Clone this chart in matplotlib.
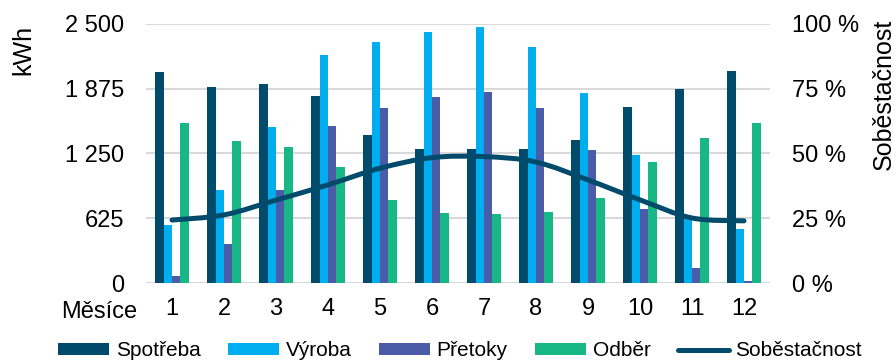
#!/usr/bin/env python3
import numpy as np
import matplotlib
matplotlib.use('Agg')
import matplotlib.pyplot as plt
from matplotlib.path import Path
from matplotlib.patches import PathPatch, Patch
from matplotlib.lines import Line2D

plt.rcParams['font.family'] = ['Liberation Sans', 'DejaVu Sans']

months = ['1', '2', '3', '4', '5', '6', '7', '8', '9', '10', '11', '12']
spotreba = [2040, 1890, 1919, 1806, 1430, 1292, 1292, 1292, 1379, 1703, 1870, 2047]
vyroba = [559, 897, 1507, 2201, 2326, 2420, 2468, 2281, 1835, 1237, 620, 517]
pretoky = [64, 379, 893, 1514, 1690, 1796, 1841, 1687, 1282, 710, 145, 22]
odber = [1543, 1372, 1311, 1115, 797, 671, 665, 690, 825, 1170, 1398, 1548]
sobestacnost = [24.3, 26.3, 32.0, 37.9, 44.3, 48.4, 48.8, 46.7, 39.8, 32.1, 25.1, 24.0]

series_names = ['Spotřeba', 'Výroba', 'Přetoky', 'Odběr']
colors = ['#004B6B', '#00AEEF', '#4A5BA8', '#17B786']
line_color = '#004B6B'
FS_TICK = 17
FS_TITLE = 18
FS_LEG = 15


def smooth_path(xs, ys):
    # Catmull-Rom style bezier, like a spreadsheet "smoothed line"
    pts = np.column_stack([xs, ys]).astype(float)
    n = len(pts)
    verts = [pts[0]]
    codes = [Path.MOVETO]
    for i in range(n - 1):
        p0 = pts[i - 1] if i > 0 else pts[i]
        p1 = pts[i]
        p2 = pts[i + 1]
        p3 = pts[i + 2] if i + 2 < n else pts[i + 1]
        c1 = p1 + (p2 - p0) / 6.0
        c2 = p2 - (p3 - p1) / 6.0
        verts += [c1, c2, p2]
        codes += [Path.CURVE4] * 3
    return Path(verts, codes)


def run():
    fig = plt.figure(figsize=(8.96, 3.63), dpi=100)
    ax = fig.add_axes([146 / 896, 1 - 283 / 363, 624 / 896, 259 / 363])
    ax2 = ax.twinx()

    x = np.arange(len(months))
    w = 0.16
    for k, (vals, c) in enumerate(zip([spotreba, vyroba, pretoky, odber], colors)):
        ax.bar(x + (k - 1.5) * w, vals, width=w, color=c, linewidth=0, zorder=2)

    ax.set_xlim(-0.5, len(months) - 0.5)
    ax.set_ylim(0, 2500)
    ax.set_yticks([0, 625, 1250, 1875, 2500])
    ax.set_yticklabels(['0', '625', '1 250', '1 875', '2 500'])
    ax.set_xticks(x)
    ax.set_xticklabels(months)
    ax.grid(axis='y', color='#D9D9D9', linewidth=1.5)
    ax.set_axisbelow(True)
    ax.tick_params(axis='y', length=0, pad=16, labelsize=FS_TICK)
    ax.tick_params(axis='x', length=0, pad=11, labelsize=FS_TICK)

    ax2.set_ylim(0, 100)
    ax2.set_yticks([0, 25, 50, 75, 100])
    ax2.set_yticklabels(['0 %', '25 %', '50 %', '75 %', '100 %'])
    ax2.tick_params(axis='y', length=0, pad=16, labelsize=FS_TICK)
    patch = PathPatch(smooth_path(x, sobestacnost), facecolor='none',
                      edgecolor=line_color, linewidth=3.6, capstyle='round',
                      joinstyle='round', zorder=3)
    ax2.add_patch(patch)

    for a in (ax, ax2):
        for s in a.spines.values():
            s.set_visible(False)

    fig.text(23 / 896, 1 - 50 / 363, 'kWh', rotation=90, ha='center', va='center', fontsize=FS_TITLE)
    fig.text(884 / 896, 1 - 94 / 363, 'Soběstačnost', rotation=90, ha='center', va='center', fontsize=FS_TITLE)
    fig.text(137 / 896, 1 - 312 / 363, 'Měsíce', ha='right', va='center', fontsize=FS_TICK)

    handles = [Patch(facecolor=c, edgecolor='none') for c in colors]
    handles.append(Line2D([], [], color=line_color, linewidth=3.6, solid_capstyle='round'))
    labels = series_names + ['Soběstačnost']
    fig.legend(handles, labels, loc='center', bbox_to_anchor=(460 / 896, 1 - 351 / 363),
               ncol=5, frameon=False, fontsize=FS_LEG, handlelength=2.45, handleheight=0.5,
               handletextpad=0.33, columnspacing=1.3, borderpad=0)

    fig.savefig('out.png', dpi=100)


if __name__ == '__main__':
    run()
